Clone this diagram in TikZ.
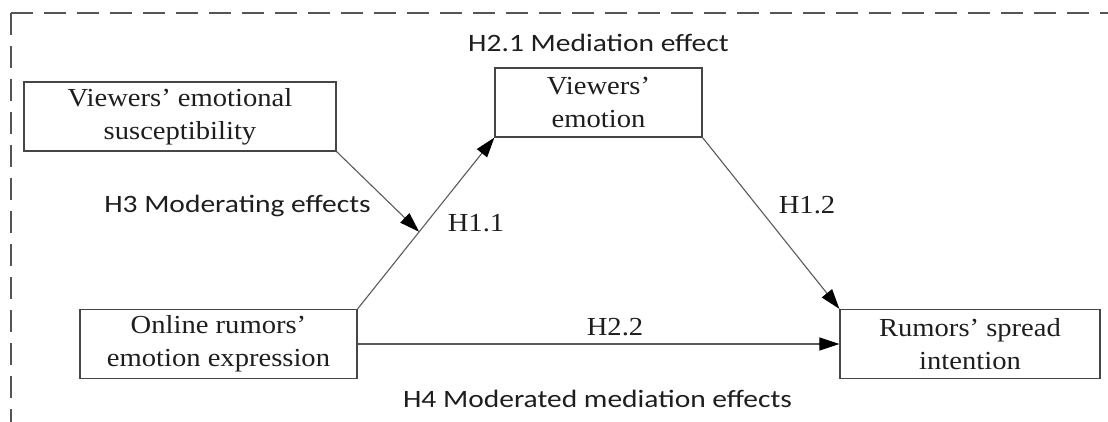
\documentclass[tikz,border=0pt]{standalone}
\usepackage{fontspec}
\setmainfont[FakeStretch=1.1]{Liberation Serif}
\newfontfamily\effectfont[FakeStretch=1.18]{Carlito}
\usepackage{tikz}
\usetikzlibrary{arrows.meta, positioning, calc}
\definecolor{boxline}{RGB}{70,70,70}
\definecolor{arrowline}{RGB}{90,90,90}
\definecolor{dashline}{RGB}{85,85,85}
\definecolor{inktext}{RGB}{30,30,30}

\begin{document}
\begin{tikzpicture}[
    x=1pt, y=-1pt,
    node distance=16pt,
    box/.style={rectangle, draw=boxline, line width=1.2pt, minimum width=#1, minimum height=69pt, inner sep=0pt, align=center, text=inktext, font=\fontsize{26}{33}\selectfont},
    link/.style={draw=arrowline, line width=1.1pt, -{Triangle[length=20pt, width=13pt, color=black]}},
    hyp/.style={inner sep=0pt, text=inktext, font=\fontsize{26}{30}\selectfont},
    effect/.style={inner sep=0pt, text=inktext, font=\effectfont\fontsize{25}{30}\selectfont},
    dashframe/.style={draw=dashline, line width=1.5pt, dash pattern=on 22pt off 11pt}
]
\useasboundingbox (0,0) rectangle (1108,422);
\draw[dashframe] (11,13) -- (1108,13);
\draw[dashframe] (11,13) -- (11,422);

\node[box=312pt] (suscept) at (180,116.5) {Viewers' emotional\\susceptibility};
\node[box=207pt] (emotion) at (598.5,102.5) {Viewers'\\emotion};
\node[box=277pt] (express) at (218.5,344) {Online rumors'\\emotion expression};
\node[box=260pt] (spread) at (970,344) {Rumors' spread\\intention};

\coordinate (moderate) at ($(express.north east)!0.45!(emotion.south west)$);

\draw[link] (express.north east) -- (emotion.south west);
\draw[link] (emotion.south east) -- (spread.north west);
\draw[link] (express) -- (spread);
\draw[link] (suscept.south east) -- (moderate);

\node[effect, above=16pt of emotion] (h21) {H2.1 Mediation effect};
\node[effect, anchor=base] (h3) at (237.5,213) {H3 Moderating effects};
\node[hyp, anchor=base] (h11) at (476,232) {H1.1};
\node[hyp, anchor=base] (h12) at (807,214) {H1.2};
\node[hyp, anchor=base] (h22) at (615,335) {H2.2};
\node[effect, anchor=base] (h4) at (597.5,407) {H4 Moderated mediation effects};
\end{tikzpicture}
\end{document}
